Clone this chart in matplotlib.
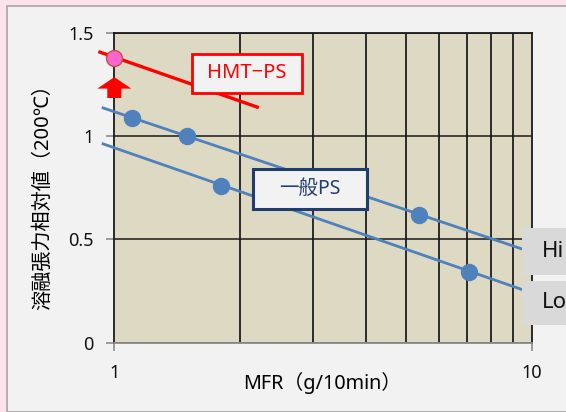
import matplotlib
matplotlib.use("Agg")
import matplotlib.pyplot as plt
from matplotlib.patches import Rectangle, Polygon
import matplotlib.transforms as mtransforms

plt.rcParams['font.family'] = ['Noto Sans', 'Noto Sans CJK JP', 'DejaVu Sans']

# ---- data ----
hmt_line_x = [0.924, 2.20]
hmt_line_y = [1.406, 1.140]
hmt_pt_x = [1.0]
hmt_pt_y = [1.38]

high_line_x = [0.94, 9.5]
high_line_y = [1.136, 0.453]
high_pts_x = [1.10, 1.49, 5.37]
high_pts_y = [1.087, 1.0, 0.618]

low_line_x = [0.94, 9.55]
low_line_y = [0.962, 0.255]
low_pts_x = [1.80, 7.09]
low_pts_y = [0.758, 0.342]

arrow_y = [1.184, 1.285]  # base, tip

xticks = [1, 10]
xtick_labels = ["1", "10"]
yticks = [0, 0.5, 1, 1.5]
ytick_labels = ["0", "0.5", "1", "1.5"]

xlabel = "MFR（g/10min）"
ylabel = "溶融張力相対値（200℃）"
hmt_label = "HMT−PS"
gen_label = "一般PS"
hi_label = "Hi"
lo_label = "Lo"

# ---- figure ----
W, H = 566, 412
fig = plt.figure(figsize=(W / 100, H / 100), dpi=100)
fig.patch.set_facecolor('#fde2ec')

panel = Rectangle((7 / W, 0), 1.2, (H - 6) / H, transform=fig.transFigure,
                  facecolor='#f2f2f2', edgecolor='#a6a6a6', lw=1.2, zorder=-10)
fig.patches.append(panel)

ax = fig.add_axes([114.3 / W, (H - 342.7) / H, 417.4 / W, 310 / H])
ax.set_facecolor('#ddd9c3')
ax.set_xscale('log')
ax.set_xlim(1, 10)
ax.set_ylim(0, 1.5)

ax.set_xticks(xticks)
ax.set_xticklabels(xtick_labels)
ax.set_xticks([2, 3, 4, 5, 6, 7, 8, 9], minor=True)
ax.set_xticklabels([], minor=True)
ax.set_yticks(yticks)
ax.set_yticklabels(ytick_labels)
ax.tick_params(axis='both', which='major', labelsize=13, color='#8c8c8c',
               length=6, width=1.2, direction='out', labelcolor='#111111')
ax.tick_params(axis='x', which='major', pad=9)
ax.tick_params(axis='y', which='major', pad=9)
ax.tick_params(axis='x', which='minor', length=0)

ax.grid(True, which='minor', axis='x', color='#2b2b2b', lw=1.4, zorder=0)
ax.grid(True, which='major', axis='y', color='#1a1a1a', lw=1.1, zorder=0)
ax.set_axisbelow(True)

for s in ['left', 'top', 'right']:
    ax.spines[s].set_color('#1a1a1a')
    ax.spines[s].set_linewidth(1.3)
ax.spines['bottom'].set_color('#8c8c8c')
ax.spines['bottom'].set_linewidth(1.3)

blue = '#4f81bd'
ax.plot(high_line_x, high_line_y, color=blue, lw=2.0, clip_on=False, zorder=3)
ax.plot(low_line_x, low_line_y, color=blue, lw=2.0, clip_on=False, zorder=3)
ax.plot(high_pts_x, high_pts_y, 'o', color=blue, ms=11.5, zorder=4, clip_on=False)
ax.plot(low_pts_x, low_pts_y, 'o', color=blue, ms=11.5, zorder=4, clip_on=False)

ax.plot(hmt_line_x, hmt_line_y, color='#ff0000', lw=2.4, clip_on=False, zorder=3)
ax.plot(hmt_pt_x, hmt_pt_y, 'o', mfc='#ff66cc', mec='#c0504d', mew=1.0,
        ms=11.5, zorder=5, clip_on=False)

# red up arrow at x=1 (axes-x fraction, data-y)
btr = mtransforms.blended_transform_factory(ax.transAxes, ax.transData)
hw, sw = 17 / 417.4, 7 / 417.4
yb, yt = arrow_y
yh = yb + (yt - yb) * 0.45
arrow = Polygon([(-sw, yb), (sw, yb), (sw, yh), (hw, yh), (0, yt), (-hw, yh), (-sw, yh)],
                closed=True, transform=btr, facecolor='#ff0000', edgecolor='none',
                clip_on=False, zorder=5)
ax.add_patch(arrow)


def fx(px):
    return (px - 114.3) / 417.4


def fy(py):
    return (342.7 - py) / 310


def label_box(x0, y0, x1, y1, text, fc, ec, lw, tc, fs, ha='center', tx=None):
    r = Rectangle((fx(x0), fy(y1)), fx(x1) - fx(x0), fy(y0) - fy(y1),
                  transform=ax.transAxes, facecolor=fc, edgecolor=ec, lw=lw,
                  clip_on=False, zorder=6)
    ax.add_patch(r)
    if tx is None:
        tx = (x0 + x1) / 2
    ax.text(fx(tx), fy((y0 + y1) / 2), text, transform=ax.transAxes, ha=ha,
            va='center', color=tc, fontsize=fs, zorder=7, clip_on=False)


label_box(192, 54, 302, 93, hmt_label, '#f2f2f2', '#ff0000', 2.0, '#ff0000', 14.5)
label_box(253, 169, 367, 209, gen_label, '#f2f2f2', '#1f3d6e', 2.2, '#1f3d6e', 14)
label_box(522, 228, 600, 275, hi_label, '#d9d9d9', 'none', 0, '#111111', 16, ha='left', tx=542)
label_box(522, 281, 600, 325, lo_label, '#d9d9d9', 'none', 0, '#111111', 16, ha='left', tx=542)

fig.text(322 / W, 1 - 383 / H, xlabel, ha='center', va='center', fontsize=14.3)
fig.text(43 / W, 1 - 192 / H, ylabel, ha='center', va='center', rotation=90, fontsize=14.5)

fig.savefig('out.png', dpi=100, facecolor=fig.get_facecolor())
